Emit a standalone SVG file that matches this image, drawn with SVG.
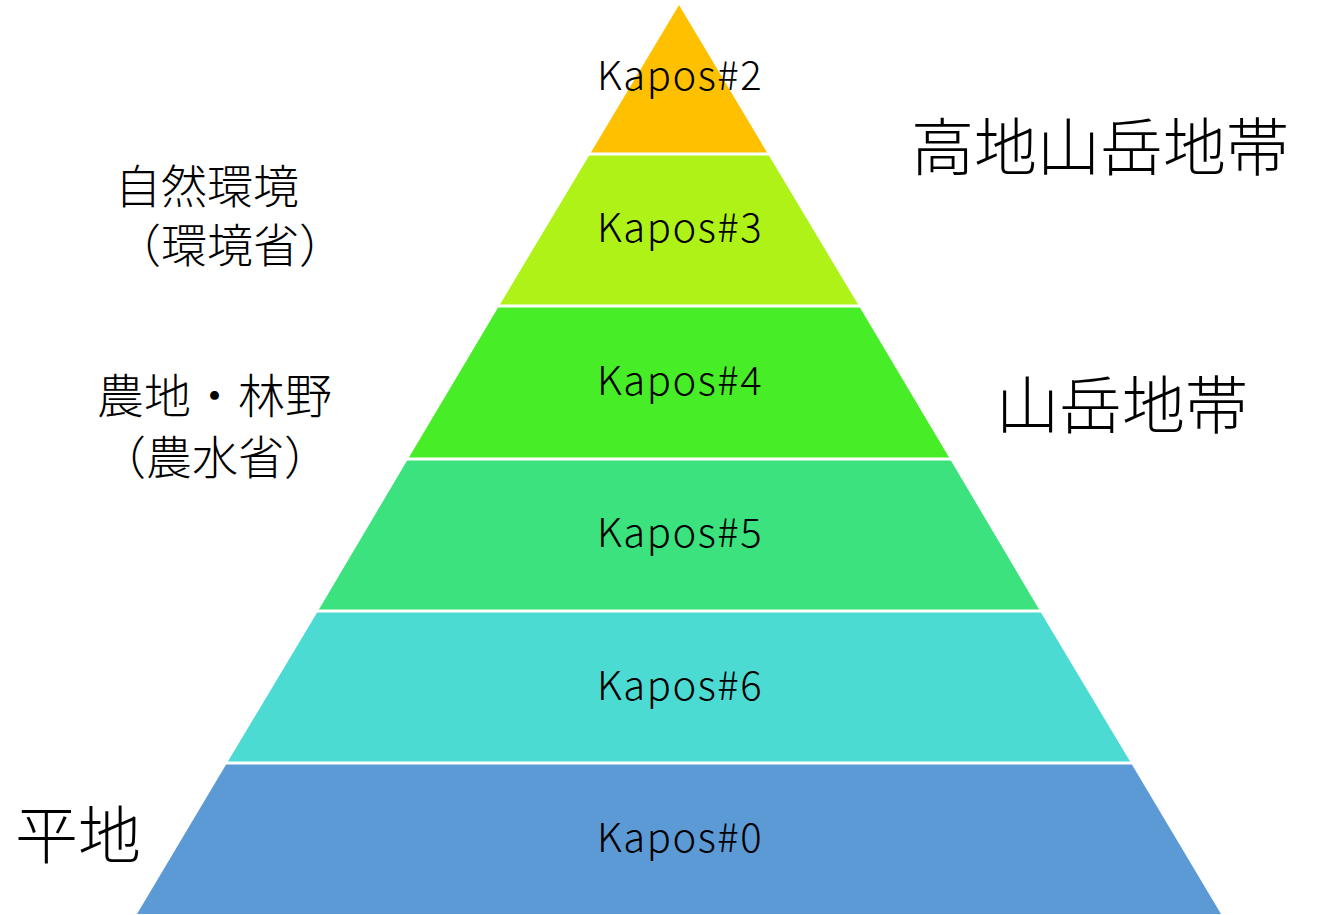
<svg xmlns="http://www.w3.org/2000/svg" width="1317" height="915" viewBox="0 0 1317 915">
<style>
.k{font-family:"Noto Sans CJK JP","Noto Sans",sans-serif;font-size:40px;font-weight:300;fill:#000;text-anchor:middle;letter-spacing:1.5px}
.j{font-family:"Noto Sans CJK JP",sans-serif;font-weight:300;fill:#000}
.sep{stroke:#fff;stroke-width:3}
</style>
<rect width="1317" height="915" fill="#fff"/>
<g id="layer2"><polygon points="679,5 768,154 590,154" fill="#FFC000"/><text class="k" x="680" y="90">Kapos#2</text></g>
<g id="layer3"><polygon points="768,154 859,306 499,306 590,154" fill="#AEF218"/><text class="k" x="680" y="242">Kapos#3</text></g>
<g id="layer4"><polygon points="859,306 950,459 408,459 499,306" fill="#47EE27"/><text class="k" x="680" y="395">Kapos#4</text></g>
<g id="layer5"><polygon points="950,459 1040,611 318,611 408,459" fill="#3BE27D"/><text class="k" x="680" y="547">Kapos#5</text></g>
<g id="layer6"><polygon points="1040,611 1131,763 227,763 318,611" fill="#4BDBD2"/><text class="k" x="680" y="700">Kapos#6</text></g>
<g id="layer0"><polygon points="1131,763 1221,914 137,914 227,763" fill="#5B9AD5"/><text class="k" x="680" y="852">Kapos#0</text></g>
<g id="separators">
<line class="sep" x1="560" y1="154" x2="800" y2="154"/>
<line class="sep" x1="470" y1="306" x2="890" y2="306"/>
<line class="sep" x1="380" y1="459" x2="980" y2="459"/>
<line class="sep" x1="290" y1="611" x2="1070" y2="611"/>
<line class="sep" x1="200" y1="763" x2="1160" y2="763"/>
</g>
<g id="label-env"><text class="j" font-size="46" x="115" y="203">自然環境</text><text class="j" font-size="46" x="115" y="262">（環境省）</text></g>
<g id="label-agri"><text class="j" font-size="47" x="97" y="413">農地・林野</text><text class="j" font-size="46" x="100" y="474">（農水省）</text></g>
<g id="label-highland"><text class="j" font-size="63" x="911" y="170">高地山岳地帯</text></g>
<g id="label-mountain"><text class="j" font-size="63" x="996" y="428">山岳地帯</text></g>
<g id="label-plain"><text class="j" font-size="63" x="15" y="858">平地</text></g>
</svg>
